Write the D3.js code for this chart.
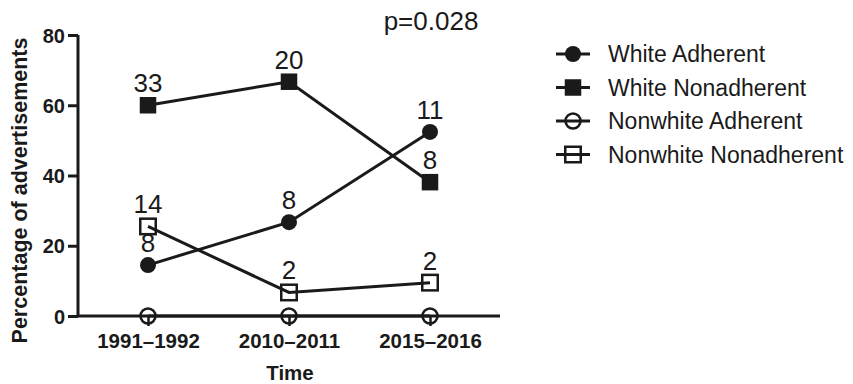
<!DOCTYPE html>
<html>
<head>
<meta charset="utf-8">
<script src="https://cdn.jsdelivr.net/npm/d3@7"></script>
<style>
  html, body { margin: 0; padding: 0; background: #fff; }
  svg { display: block; font-family: "Liberation Sans", Arial, Helvetica, sans-serif; }
</style>
</head>
<body>
<svg id="chart" width="853" height="384"></svg>
<script>
// Time periods on the x axis
const periods = ["1991\u20131992", "2010\u20132011", "2015\u20132016"];

// Percentage of advertisements per group
const whiteAdherent = [14.5, 26.7, 52.4];
const whiteNonadherent = [60.0, 66.7, 38.1];
const nonwhiteAdherent = [0, 0, 0];
const nonwhiteNonadherent = [25.5, 6.7, 9.5];

// Number of advertisements shown above each point (null = no label)
const whiteAdherentN = [8, 8, 11];
const whiteNonadherentN = [33, 20, 8];
const nonwhiteAdherentN = [null, null, null];
const nonwhiteNonadherentN = [14, 2, 2];

const yTicks = [0, 20, 40, 60, 80];
const pValue = "p=0.028";

const series = [
  { name: "White Adherent", values: whiteAdherent, counts: whiteAdherentN, shape: "circle", filled: true },
  { name: "White Nonadherent", values: whiteNonadherent, counts: whiteNonadherentN, shape: "square", filled: true },
  { name: "Nonwhite Adherent", values: nonwhiteAdherent, counts: nonwhiteAdherentN, shape: "circle", filled: false },
  { name: "Nonwhite Nonadherent", values: nonwhiteNonadherent, counts: nonwhiteNonadherentN, shape: "square", filled: false }
];

const svg = d3.select("#chart");
const ink = "#1a1a1a";

const x = d3.scalePoint().domain(periods).range([148, 430]);
const y = d3.scaleLinear().domain([0, 80]).range([316, 35]);

// Axes
const yAxis = svg.append("g")
  .attr("transform", "translate(78,0)")
  .call(d3.axisLeft(y).tickValues(yTicks).tickSize(10).tickPadding(3));
yAxis.select(".domain").attr("stroke", ink).attr("stroke-width", 3)
  .attr("d", `M0,${y(80)}V${y(0)}`);
yAxis.selectAll(".tick line").attr("stroke", ink).attr("stroke-width", 3);
yAxis.selectAll(".tick text").attr("fill", ink)
  .style("font-size", "20px").style("font-weight", "bold").attr("dy", "0.36em");

const xAxis = svg.append("g")
  .attr("transform", `translate(0,${y(0)})`)
  .call(d3.axisBottom(x).tickSize(10).tickPadding(0));
xAxis.select(".domain").attr("stroke", ink).attr("stroke-width", 3)
  .attr("d", `M78,0H500`);
xAxis.selectAll(".tick line").attr("stroke", ink).attr("stroke-width", 2.5);
xAxis.selectAll(".tick text").attr("fill", ink)
  .attr("dy", null).attr("y", 32)
  .style("font-size", "20.5px").style("font-weight", "bold");

// Axis titles
svg.append("text")
  .attr("transform", `translate(27,${(y(0) + y(80)) / 2 + 15}) rotate(-90)`)
  .attr("text-anchor", "middle")
  .attr("fill", ink)
  .style("font-size", "21.5px").style("font-weight", "bold")
  .text("Percentage of advertisements");

svg.append("text")
  .attr("x", x(periods[1]) + 1).attr("y", 380)
  .attr("text-anchor", "middle")
  .attr("fill", ink)
  .style("font-size", "20.5px").style("font-weight", "bold")
  .text("Time");

svg.append("text")
  .attr("x", 431).attr("y", 30)
  .attr("text-anchor", "middle")
  .attr("fill", ink)
  .style("font-size", "26px")
  .text(pValue);

// Series lines
const line = d3.line().x((d, i) => x(periods[i])).y(d => y(d));

function drawMarker(g, shape, filled, cx, cy) {
  if (shape === "circle") {
    g.append("circle").attr("cx", cx).attr("cy", cy).attr("r", filled ? 8 : 7.5)
      .attr("fill", filled ? ink : "none")
      .attr("stroke", ink).attr("stroke-width", filled ? 0 : 2.5);
  } else {
    const s = filled ? 16.5 : 15.5;
    g.append("rect").attr("x", cx - s / 2).attr("y", cy - s / 2)
      .attr("width", s).attr("height", s)
      .attr("fill", filled ? ink : "none")
      .attr("stroke", ink).attr("stroke-width", filled ? 0 : 2.5);
  }
}

const plot = svg.append("g");
series.forEach(s => {
  const g = plot.append("g");
  g.append("path").attr("d", line(s.values))
    .attr("fill", "none").attr("stroke", ink).attr("stroke-width", 3);
  s.values.forEach((v, i) => drawMarker(g, s.shape, s.filled, x(periods[i]), y(v)));
  s.values.forEach((v, i) => {
    if (s.counts[i] == null) return;
    g.append("text")
      .attr("x", x(periods[i])).attr("y", y(v) - 13)
      .attr("text-anchor", "middle")
      .attr("fill", ink)
      .style("font-size", "26px")
      .text(s.counts[i]);
  });
});

// Legend
const legend = svg.append("g").attr("transform", "translate(556,54)");
series.forEach((s, i) => {
  const row = legend.append("g").attr("transform", `translate(0,${i * 33.5})`);
  row.append("line").attr("x1", 0).attr("x2", 34).attr("y1", 0).attr("y2", 0)
    .attr("stroke", ink).attr("stroke-width", 3);
  drawMarker(row, s.shape, s.filled, 17, 0);
  row.append("text").attr("x", 52).attr("y", 0).attr("dy", "0.36em")
    .attr("fill", ink).style("font-size", "23px").text(s.name);
});
</script>
</body>
</html>
